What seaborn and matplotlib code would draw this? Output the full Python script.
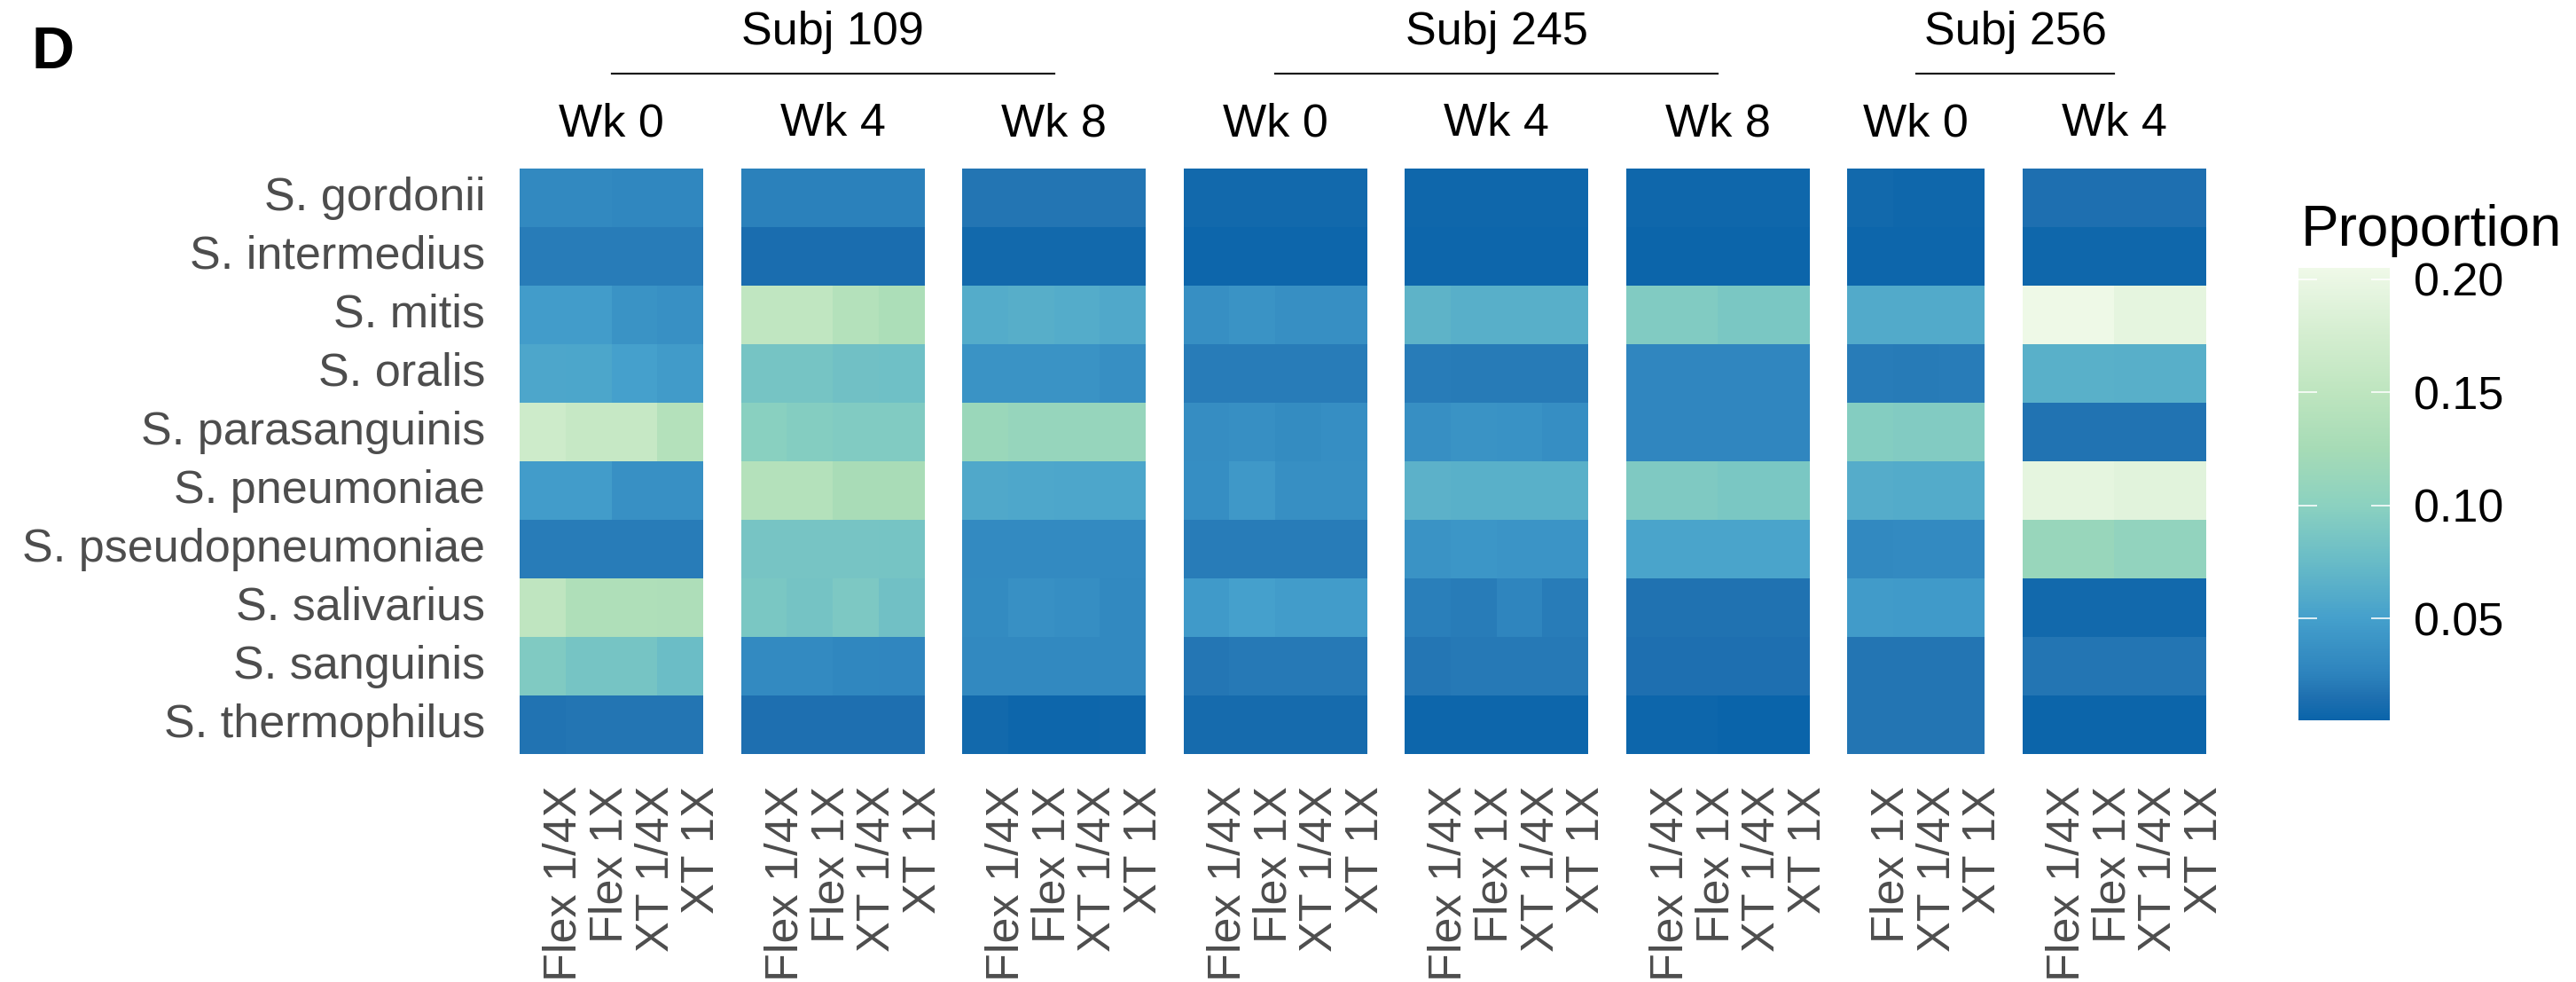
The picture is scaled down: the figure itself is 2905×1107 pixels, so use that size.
import numpy as np
import pandas as pd
import matplotlib
matplotlib.use("Agg")
import matplotlib.pyplot as plt
import seaborn as sns
from matplotlib.colors import LinearSegmentedColormap
from matplotlib.lines import Line2D

plt.rcParams["font.family"] = ["Liberation Sans", "DejaVu Sans"]

# ---------------------------------------------------------------- data
species = [
    "S. gordonii", "S. intermedius", "S. mitis", "S. oralis",
    "S. parasanguinis", "S. pneumoniae", "S. pseudopneumoniae",
    "S. salivarius", "S. sanguinis", "S. thermophilus",
]
doses_all = ["Flex 1/4X", "Flex 1X", "XT 1/4X", "XT 1X"]
doses_256_wk0 = ["Flex 1X", "XT 1/4X", "XT 1X"]

subjects = ["Subj 109", "Subj 245", "Subj 256"]

# relative proportions; rows follow `species`, columns follow the dose list
s109_wk0 = [
    [0.030, 0.030, 0.029, 0.029],
    [0.022, 0.022, 0.022, 0.022],
    [0.047, 0.047, 0.039, 0.037],
    [0.056, 0.055, 0.050, 0.046],
    [0.167, 0.159, 0.159, 0.140],
    [0.047, 0.047, 0.037, 0.037],
    [0.022, 0.022, 0.022, 0.022],
    [0.151, 0.134, 0.134, 0.133],
    [0.092, 0.085, 0.085, 0.077],
    [0.017, 0.018, 0.018, 0.018],
]
s109_wk4 = [
    [0.024, 0.024, 0.024, 0.024],
    [0.013, 0.013, 0.013, 0.013],
    [0.152, 0.152, 0.139, 0.131],
    [0.085, 0.085, 0.081, 0.080],
    [0.098, 0.095, 0.093, 0.093],
    [0.139, 0.139, 0.128, 0.128],
    [0.086, 0.086, 0.086, 0.085],
    [0.088, 0.084, 0.090, 0.081],
    [0.031, 0.031, 0.029, 0.028],
    [0.015, 0.015, 0.015, 0.015],
]
s109_wk8 = [
    [0.018, 0.018, 0.018, 0.018],
    [0.009, 0.009, 0.009, 0.009],
    [0.061, 0.063, 0.061, 0.058],
    [0.039, 0.039, 0.039, 0.036],
    [0.114, 0.110, 0.110, 0.110],
    [0.058, 0.057, 0.056, 0.055],
    [0.031, 0.031, 0.031, 0.031],
    [0.032, 0.037, 0.035, 0.030],
    [0.030, 0.030, 0.030, 0.030],
    [0.009, 0.007, 0.007, 0.008],
]
s245_wk0 = [
    [0.009, 0.009, 0.009, 0.009],
    [0.007, 0.007, 0.007, 0.007],
    [0.036, 0.039, 0.036, 0.036],
    [0.022, 0.022, 0.022, 0.022],
    [0.034, 0.036, 0.033, 0.035],
    [0.035, 0.044, 0.036, 0.036],
    [0.022, 0.022, 0.022, 0.022],
    [0.045, 0.050, 0.047, 0.047],
    [0.019, 0.020, 0.020, 0.020],
    [0.011, 0.011, 0.011, 0.011],
]
s245_wk4 = [
    [0.008, 0.008, 0.008, 0.008],
    [0.007, 0.007, 0.007, 0.007],
    [0.068, 0.064, 0.064, 0.064],
    [0.022, 0.021, 0.021, 0.021],
    [0.036, 0.039, 0.038, 0.035],
    [0.066, 0.065, 0.065, 0.065],
    [0.039, 0.041, 0.040, 0.040],
    [0.023, 0.022, 0.027, 0.022],
    [0.019, 0.020, 0.020, 0.020],
    [0.007, 0.007, 0.007, 0.007],
]
s245_wk8 = [
    [0.008, 0.008, 0.008, 0.008],
    [0.006, 0.006, 0.006, 0.006],
    [0.093, 0.093, 0.088, 0.088],
    [0.028, 0.028, 0.028, 0.028],
    [0.028, 0.028, 0.028, 0.028],
    [0.091, 0.091, 0.088, 0.088],
    [0.054, 0.054, 0.054, 0.054],
    [0.016, 0.016, 0.016, 0.016],
    [0.015, 0.015, 0.015, 0.015],
    [0.007, 0.007, 0.005, 0.005],
]
s256_wk0 = [
    [0.009, 0.008, 0.008],
    [0.007, 0.007, 0.007],
    [0.059, 0.059, 0.059],
    [0.022, 0.021, 0.022],
    [0.095, 0.094, 0.094],
    [0.062, 0.060, 0.060],
    [0.030, 0.031, 0.031],
    [0.046, 0.045, 0.045],
    [0.018, 0.018, 0.018],
    [0.018, 0.018, 0.018],
]
s256_wk4 = [
    [0.015, 0.015, 0.015, 0.015],
    [0.008, 0.008, 0.008, 0.008],
    [0.204, 0.204, 0.194, 0.194],
    [0.065, 0.065, 0.064, 0.064],
    [0.017, 0.017, 0.017, 0.017],
    [0.194, 0.194, 0.190, 0.190],
    [0.112, 0.112, 0.106, 0.106],
    [0.009, 0.009, 0.009, 0.009],
    [0.018, 0.018, 0.018, 0.018],
    [0.006, 0.006, 0.006, 0.006],
]

panel_values = {
    ("Subj 109", "Wk 0"): (s109_wk0, doses_all),
    ("Subj 109", "Wk 4"): (s109_wk4, doses_all),
    ("Subj 109", "Wk 8"): (s109_wk8, doses_all),
    ("Subj 245", "Wk 0"): (s245_wk0, doses_all),
    ("Subj 245", "Wk 4"): (s245_wk4, doses_all),
    ("Subj 245", "Wk 8"): (s245_wk8, doses_all),
    ("Subj 256", "Wk 0"): (s256_wk0, doses_256_wk0),
    ("Subj 256", "Wk 4"): (s256_wk4, doses_all),
}

cbar_ticks = [0.05, 0.10, 0.15, 0.20]
VMIN, VMAX = 0.005, 0.205

# ---------------------------------------------------------------- style
cmap = LinearSegmentedColormap.from_list(
    "gnbu_prop",
    [(0.000, "#0a64aa"), (0.050, "#1f70b0"), (0.100, "#2d83bd"),
     (0.225, "#45a0cc"), (0.350, "#68bbc7"), (0.475, "#8bd1c0"),
     (0.600, "#a6dbb6"), (0.725, "#bee5bf"), (0.850, "#d3edcf"),
     (1.000, "#eff9e8")])

FIG_W, FIG_H = 2905, 1107
DPI = 100
PX = 72.0 / DPI          # points per pixel
FS = 37.5
GREY = "#4d4d4d"

fig = plt.figure(figsize=(FIG_W / DPI, FIG_H / DPI), dpi=DPI)
fig.patch.set_facecolor("white")


def box(x0, y0, w, h):
    """pixel box measured from the top-left corner -> figure fraction"""
    return [x0 / FIG_W, 1 - (y0 + h) / FIG_H, w / FIG_W, h / FIG_H]


def fx(x):
    return x / FIG_W


def fy(y):
    return 1 - y / FIG_H


LEFT, TOP, HEIGHT = 586, 190, 660
COL_W, GAP = 51.8, 42.3

cax = fig.add_axes(box(2592, 302, 103, 510))

x = LEFT
centers = {}
n_panels = len(panel_values)
for i, ((subj, wk), (vals, doses)) in enumerate(panel_values.items()):
    w = COL_W * len(doses)
    ax = fig.add_axes(box(x, TOP, w, HEIGHT))
    df = pd.DataFrame(vals, index=species, columns=doses)
    last = i == n_panels - 1
    sns.heatmap(df, ax=ax, cmap=cmap, vmin=VMIN, vmax=VMAX,
                cbar=last, cbar_ax=cax if last else None,
                xticklabels=True, yticklabels=(i == 0), linewidths=0)
    ax.tick_params(axis="both", length=0, labelsize=FS, colors=GREY,
                   pad=26)
    for lab in ax.get_xticklabels():
        lab.set_rotation(90)
        lab.set_va("top")
        lab.set_ha("left")
    if i == 0:
        ax.tick_params(axis="y", pad=28)
        for lab in ax.get_yticklabels():
            lab.set_rotation(0)
    ax.set_xlabel("")
    ax.set_ylabel("")
    cx = x + w / 2
    centers.setdefault(subj, []).append(cx)
    fig.text(fx(cx), fy(153), wk, ha="center", va="baseline",
             fontsize=FS, color="black")
    x += w + GAP

# subject headers with a rule spanning their week panels
for subj in subjects:
    xs = centers[subj]
    fig.add_artist(Line2D([fx(xs[0]), fx(xs[-1])], [fy(83), fy(83)],
                          transform=fig.transFigure, color="#1a1a1a",
                          lw=2.2 * PX))
    fig.text(fx((xs[0] + xs[-1]) / 2), fy(50), subj, ha="center",
             va="baseline", fontsize=FS, color="black")

# colour bar
cax.set_yticks(cbar_ticks)
cax.set_yticklabels([f"{t:.2f}" for t in cbar_ticks])
cax.tick_params(axis="y", which="both", direction="in", length=21 * PX,
                width=1.6 * PX, color="white", left=True, right=True,
                labelleft=False, labelright=True, labelcolor="black",
                labelsize=FS, pad=27 * PX)
cax.tick_params(axis="y", which="minor", length=0)
for sp in cax.spines.values():
    sp.set_visible(False)
fig.text(fx(2595), fy(277), "Proportion", ha="left", va="baseline",
         fontsize=46, color="black")

# panel letter
fig.text(fx(36), fy(77), "D", ha="left", va="baseline", fontsize=48,
         fontweight="bold", color="black")

fig.savefig("out.png", dpi=DPI, facecolor="white")
